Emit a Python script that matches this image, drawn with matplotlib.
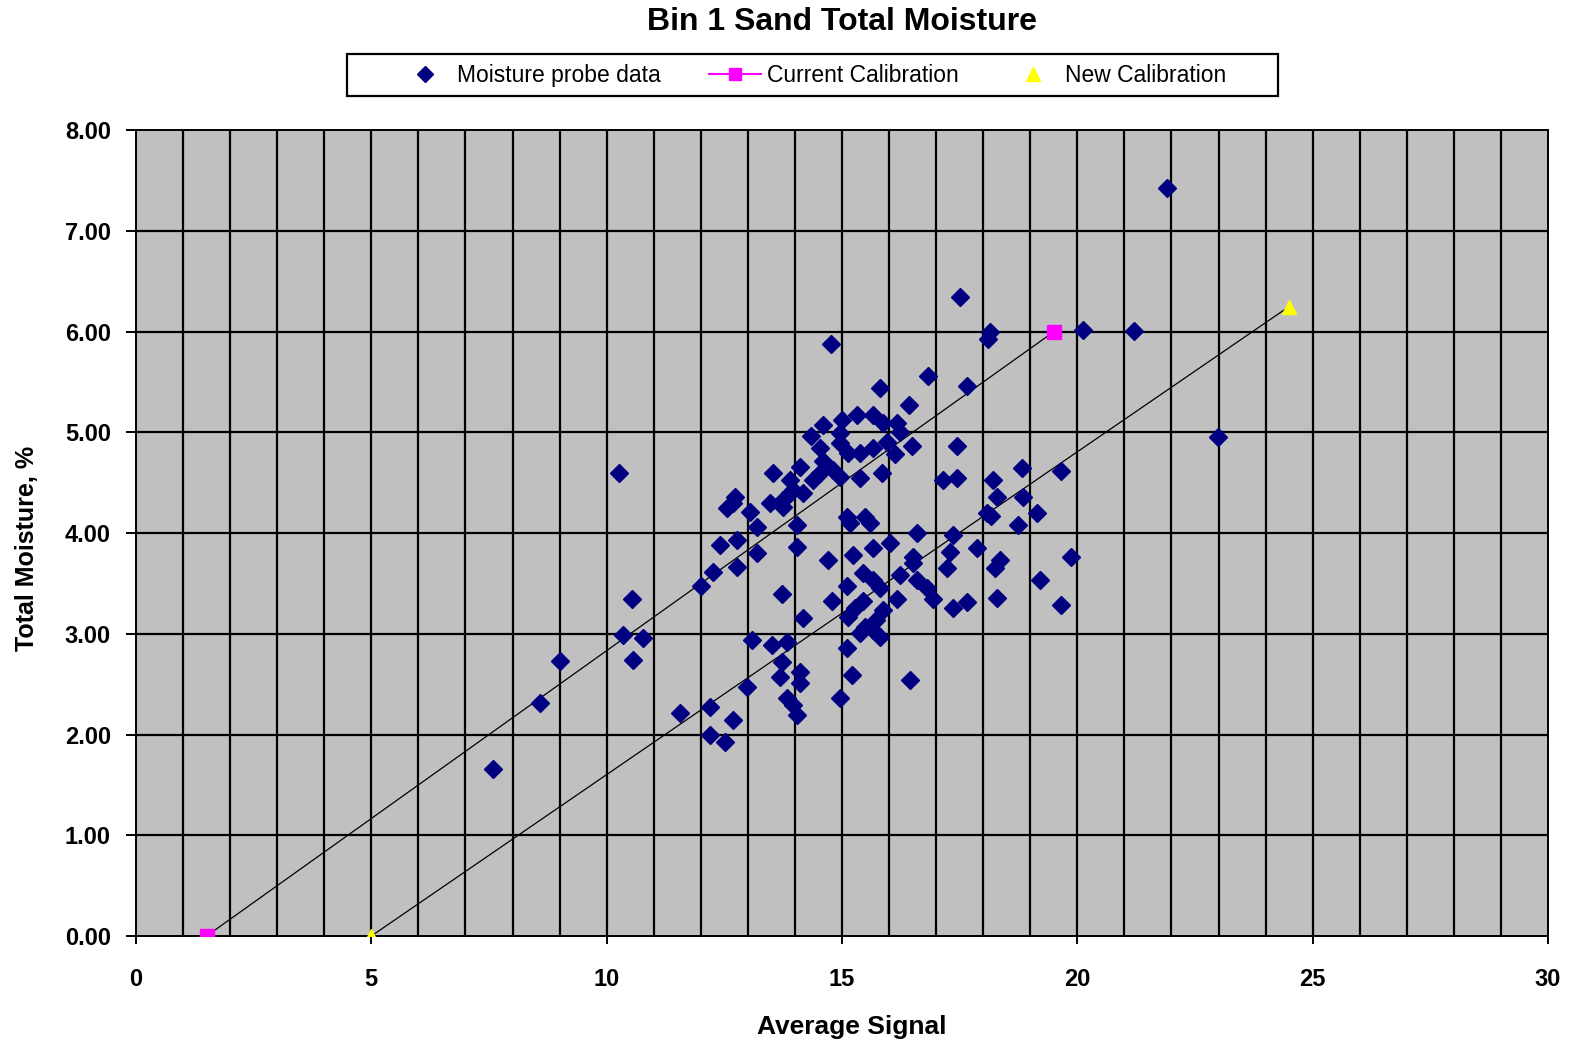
import matplotlib.pyplot as plt
from matplotlib.lines import Line2D
from matplotlib.patches import Rectangle

# moisture probe readings: average signal vs total moisture %
signal = [
    7.58, 8.58, 9.01, 10.26, 10.35, 10.54, 10.56, 10.77, 11.56, 12.00,
    12.19, 12.19, 12.26, 12.41, 12.51, 12.56, 12.73, 12.68, 12.77, 12.77,
    12.98, 13.04, 13.09, 13.19, 13.19, 13.47, 13.51, 13.53, 13.72, 13.75,
    13.83, 13.72, 13.68, 13.83, 13.96, 14.04, 13.96, 14.04, 14.04, 14.11,
    14.11, 14.11, 14.17, 13.75, 13.89, 13.89, 14.17, 14.38, 14.34, 14.53,
    14.60, 14.60, 14.53, 14.81, 14.96, 14.96, 14.96, 15.00, 15.13, 15.32,
    15.38, 15.38, 15.11, 15.17, 15.49, 15.59, 14.70, 15.23, 15.45, 15.11,
    14.79, 15.13, 15.11, 15.21, 14.96, 15.45, 15.38, 15.49, 15.66, 15.81,
    14.77, 15.66, 15.87, 16.17, 16.23, 16.49, 16.12, 15.95, 15.66, 15.85,
    15.81, 16.42, 16.83, 15.66, 16.02, 16.59, 16.51, 16.59, 16.80, 16.93,
    15.66, 15.81, 16.17, 15.87, 16.44, 16.23, 16.51, 17.14, 17.44, 17.44,
    17.51, 17.65, 18.14, 18.10, 20.12, 21.20, 21.90, 22.99, 18.21, 18.82,
    18.29, 18.84, 18.08, 19.14, 18.74, 17.36, 17.29, 17.23, 17.87, 18.36,
    18.25, 19.21, 17.36, 17.65, 18.29, 19.65, 19.86, 19.65, 18.17, 15.28,
    15.72, 12.68,
]
moisture = [
    1.66, 2.31, 2.73, 4.60, 2.99, 3.35, 2.74, 2.96, 2.21, 3.48,
    2.27, 2.00, 3.61, 3.88, 1.93, 4.25, 4.36, 2.14, 3.93, 3.66,
    2.47, 4.21, 2.94, 4.06, 3.80, 4.30, 2.89, 4.60, 3.40, 4.33,
    2.92, 2.72, 2.57, 2.36, 2.29, 2.19, 4.43, 4.08, 3.86, 4.66,
    2.62, 2.51, 3.16, 4.26, 4.53, 4.40, 4.40, 4.53, 4.96, 4.85,
    5.07, 4.72, 4.60, 4.63, 4.56, 4.89, 4.99, 5.12, 4.80, 5.17,
    4.80, 4.55, 4.16, 4.10, 4.16, 4.10, 3.73, 3.78, 3.60, 3.48,
    3.33, 3.17, 2.86, 2.59, 2.36, 3.33, 3.01, 3.07, 3.04, 2.97,
    5.88, 5.17, 5.09, 5.09, 5.00, 4.87, 4.79, 4.90, 4.85, 4.60,
    5.44, 5.27, 5.56, 3.85, 3.90, 4.00, 3.76, 3.53, 3.46, 3.35,
    3.53, 3.46, 3.35, 3.24, 2.54, 3.58, 3.70, 4.53, 4.55, 4.87,
    6.34, 5.46, 6.00, 5.93, 6.02, 6.01, 7.43, 4.95, 4.53, 4.65,
    4.36, 4.36, 4.20, 4.20, 4.08, 3.98, 3.81, 3.65, 3.85, 3.73,
    3.65, 3.53, 3.26, 3.32, 3.36, 3.29, 3.76, 4.62, 4.17, 3.26,
    3.14, 4.30,
]

# calibration end points
current_x = [1.5, 19.5]
current_y = [0.0, 6.0]
new_x = [5.0, 24.5]
new_y = [0.0, 6.25]

NAVY = "#000080"
FONT = "Liberation Sans"

fig = plt.figure(figsize=(15.7, 10.42), dpi=100)
ax = fig.add_axes([0.0866, 0.1017, 0.8994, 0.7733])
ax.set_facecolor("#C0C0C0")

ax.plot(current_x, current_y, color="black", lw=0.9, zorder=3)
ax.plot(new_x, new_y, color="black", lw=0.9, zorder=3)
ax.plot(signal, moisture, "D", color=NAVY, ms=9, mec=NAVY, zorder=4)
ax.plot(current_x, current_y, "s", color="#FF00FF", ms=10, lw=0, zorder=5)
ax.plot(new_x, new_y, "^", color="#FFFF00", ms=10, lw=0, zorder=5)

ax.set_xlim(0, 30)
ax.set_ylim(0, 8)
ax.set_xticks(range(0, 31, 5))
ax.set_yticks(range(0, 9))
ax.set_yticklabels([f"{v:.2f}" for v in range(0, 9)])
for v in range(1, 30):
    ax.axvline(v, color="black", lw=1.6, zorder=1)
for v in range(1, 8):
    ax.axhline(v, color="black", lw=1.6, zorder=1)
ax.tick_params(axis="x", labelsize=17, length=6, width=1.4, pad=17)
ax.tick_params(axis="y", labelsize=17, length=7, width=1.4, pad=11)
for lab in ax.get_xticklabels() + ax.get_yticklabels():
    lab.set_fontfamily(FONT)
    lab.set_fontweight("bold")
for sp in ax.spines.values():
    sp.set_linewidth(1.4)

ax.set_xlabel("Average Signal", fontsize=19, fontweight="bold", family=FONT)
ax.set_ylabel("Total Moisture, %", fontsize=18, fontweight="bold", family=FONT)
ax.xaxis.set_label_coords(0.507, -0.113)
ax.xaxis.label.set_va("center")
ax.yaxis.set_label_coords(-0.0772, 0.481)
ax.yaxis.label.set_va("center")

fig.text(0.536, 0.979, "Bin 1 Sand Total Moisture", fontsize=23, fontweight="bold",
         family=FONT, ha="center", va="center")

# legend box drawn as a plain frame, entries placed inside it
fig.patches.append(Rectangle((347 / 1570, 1 - 96 / 1042), 931 / 1570, 42 / 1042,
                             transform=fig.transFigure, facecolor="white",
                             edgecolor="black", lw=1.6, zorder=0))
handles = [
    Line2D([], [], marker="D", color=NAVY, lw=0, ms=8),
    Line2D([], [], marker="s", color="#FF00FF", lw=1.5, ms=9),
    Line2D([], [], marker="^", color="#FFFF00", lw=0, ms=10),
]
labels = ["Moisture probe data", "Current Calibration", "New Calibration"]
fig.legend(handles, labels, loc="center", bbox_to_anchor=(0.5175, 0.928), ncol=3,
           frameon=False, prop={"family": FONT, "size": 16.5}, columnspacing=2.1,
           handlelength=2.3, handletextpad=0.25, borderpad=0.2)

fig.savefig("out.png", dpi=100)
